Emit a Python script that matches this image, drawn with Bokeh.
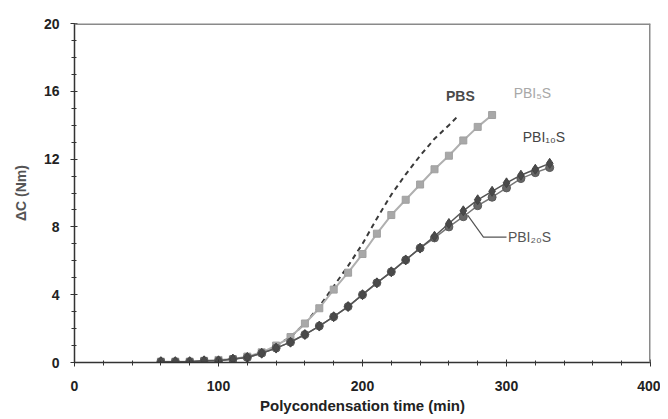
from bokeh.plotting import figure
from bokeh.models import Range1d, Span, Label, FixedTicker
from bokeh.embed import file_html
from bokeh.resources import INLINE

# time (min)
t_i5 = [60, 70, 80, 90, 100, 110, 120, 130, 140, 150, 160, 170, 180, 190, 200, 210, 220, 230, 240, 250, 260, 270, 280, 290]
c_i5 = [0.05, 0.05, 0.05, 0.1, 0.15, 0.2, 0.35, 0.6, 1.0, 1.5, 2.3, 3.2, 4.3, 5.3, 6.4, 7.6, 8.7, 9.6, 10.5, 11.4, 12.2, 13.1, 13.9, 14.6]

t_pbs = [140, 150, 160, 170, 180, 190, 200, 210, 220, 230, 240, 250, 260, 267]
c_pbs = [1.0, 1.5, 2.3, 3.3, 4.5, 5.7, 7.0, 8.5, 9.9, 11.1, 12.2, 13.2, 14.0, 14.6]

t_dark = [60, 70, 80, 90, 100, 110, 120, 130, 140, 150, 160, 170, 180, 190, 200, 210, 220, 230, 240, 250, 260, 270, 280, 290, 300, 310, 320, 330]
c_i10 = [0.05, 0.05, 0.05, 0.1, 0.1, 0.2, 0.3, 0.55, 0.85, 1.2, 1.65, 2.15, 2.7, 3.3, 4.0, 4.7, 5.35, 6.05, 6.75, 7.45, 8.2, 8.95, 9.6, 10.1, 10.6, 11.05, 11.4, 11.75]
c_i20 = [0.05, 0.05, 0.05, 0.1, 0.1, 0.2, 0.3, 0.55, 0.85, 1.2, 1.65, 2.15, 2.7, 3.3, 4.0, 4.7, 5.35, 6.05, 6.75, 7.35, 8.0, 8.6, 9.25, 9.75, 10.3, 10.85, 11.2, 11.5]

x_ticks = [0, 100, 200, 300, 400]
y_ticks = [0, 4, 8, 12, 16, 20]

# annotation positions (data units)
lab_pbs = (268, 15.75)
lab_i5 = (318, 15.9)
lab_i10 = (326, 13.3)
lab_i20 = (301, 7.4)
leader_x = [273, 284, 300]
leader_y = [8.7, 7.4, 7.4]

FONT = "Liberation Sans"

p = figure(width=660, height=419, output_backend="svg", toolbar_location=None,
           x_range=Range1d(0, 400), y_range=Range1d(0, 20),
           min_border_left=74, min_border_right=10, min_border_top=23, min_border_bottom=57)
p.grid.visible = False
p.outline_line_color = None
p.background_fill_color = "white"

# frame top/right
p.add_layout(Span(location=20, dimension="width", line_color="#8a8a8a", line_width=3))
p.add_layout(Span(location=400, dimension="height", line_color="#8a8a8a", line_width=3))

# series
p.line(t_pbs, c_pbs, line_color="#3a3a3a", line_width=2, line_dash="5 4")
p.line(t_i5, c_i5, line_color="#b0b0b0", line_width=2)
p.scatter(t_i5, c_i5, marker="square", size=7, fill_color="#a8a8a8", line_color="#a0a0a0")
p.line(t_dark, c_i20, line_color="#777777", line_width=1.5)
p.scatter(t_dark, c_i20, marker="circle", size=8, fill_color="#666666", line_color="#5a5a5a")
p.line(t_dark, c_i10, line_color="#555555", line_width=1.5)
p.scatter(t_dark, c_i10, marker="diamond", size=10, fill_color="#4a4a4a", line_color="#444444")

p.line(leader_x, leader_y, line_color="#555555", line_width=1.2)

def lab(pos, text, color, bold, anchor="center"):
    p.add_layout(Label(x=pos[0], y=pos[1], text=text, text_color=color, text_font=FONT,
                       text_font_size="14px", text_font_style="bold" if bold else "normal",
                       text_align=anchor, text_baseline="middle"))

lab(lab_pbs, "PBS", "#4a4a4a", True)
lab(lab_i5, "PBI\u2085S", "#a8a8a8", False)
lab(lab_i10, "PBI\u2081\u2080S", "#444444", False)
lab(lab_i20, "PBI\u2082\u2080S", "#555555", False, "left")

for ax in (p.xaxis[0], p.yaxis[0]):
    ax.axis_line_color = "#333333"
    ax.axis_line_width = 1.5
    ax.major_tick_line_color = "#333333"
    ax.minor_tick_line_color = "#333333"
    ax.major_tick_in = 3
    ax.major_tick_out = 4
    ax.minor_tick_in = 2
    ax.minor_tick_out = 3
    ax.major_label_text_font = FONT
    ax.major_label_text_font_style = "bold"
    ax.major_label_text_font_size = "14px"
    ax.major_label_text_color = "#222222"
    ax.axis_label_text_font = FONT
    ax.axis_label_text_font_style = "bold"
    ax.axis_label_text_color = "#222222"

p.xaxis.ticker = FixedTicker(ticks=x_ticks, minor_ticks=list(range(0, 401, 20)))
p.yaxis.ticker = FixedTicker(ticks=y_ticks, minor_ticks=list(range(0, 21, 1)))
p.xaxis.axis_label = "Polycondensation time (min)"
p.xaxis.axis_label_text_font_size = "15px"
p.xaxis.major_label_standoff = 14
p.xaxis.axis_label_standoff = 3
p.yaxis.axis_label = "\u0394C (Nm)"
p.yaxis.axis_label_text_font_size = "14px"
p.yaxis.axis_label_text_color = "#555555"
p.yaxis.major_label_standoff = 11
p.yaxis.axis_label_standoff = 12

open("out.html", "w").write(file_html(p, INLINE))
